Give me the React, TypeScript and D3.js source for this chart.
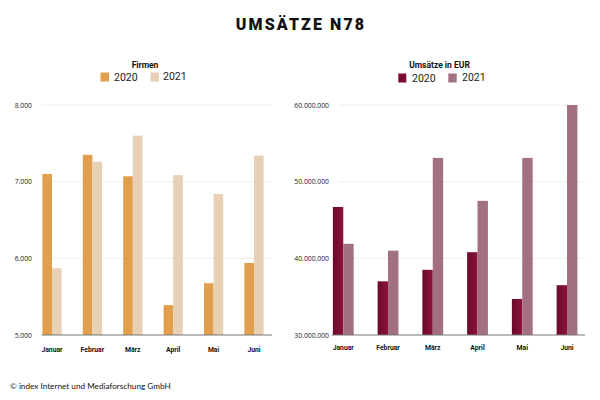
import React from "react";
import * as d3 from "d3";

const months = ["Januar", "Februar", "März", "April", "Mai", "Juni"];
const years = ["2020", "2021"];
const firmen2020 = [7100, 7350, 7070, 5390, 5675, 5940];
const firmen2021 = [5870, 7260, 7600, 7085, 6840, 7340];
const umsatz2020 = [46700000, 37000000, 38500000, 40800000, 34700000, 36500000];
const umsatz2021 = [41900000, 41000000, 53100000, 47500000, 53100000, 60000000];
const firmenTicks = [5000, 6000, 7000, 8000];
const umsatzTicks = [30000000, 40000000, 50000000, 60000000];

const de = d3.formatLocale({ decimal: ",", thousands: ".", grouping: [3], currency: ["", " €"] });
const fmt = de.format(",.0f");

const FONT = "Roboto, 'Open Sans', sans-serif";

export default function App() {
  const W = 600, H = 400;
  // left chart
  const yL = d3.scaleLinear().domain([5000, 8000]).range([335, 105]);
  const xL = d3.scaleBand<string>().domain(months).range([31.8, 274.2]).padding(0);
  const iL = d3.scaleBand<string>().domain(years).range([-9.6, 9.6]).padding(0);
  const colL: Record<string, string> = { "2020": "#E19F4D", "2021": "#E7D0B3" };
  // right chart
  const yR = d3.scaleLinear().domain([30000000, 60000000]).range([335, 105]);
  const xR = d3.scaleBand<string>().domain(months).range([320.9, 589.4]).padding(0);
  const iR = d3.scaleBand<string>().domain(years).range([-10.4, 10.4]).padding(0);
  const colR: Record<string, string> = { "2020": "url(#maroon)", "2021": "#A27080" };

  const leftData = [firmen2020, firmen2021];
  const rightData = [umsatz2020, umsatz2021];

  return (
    <svg width={W} height={H} style={{ position: "absolute", left: 0, top: 0, background: "#fff" }}>
      <defs>
        <linearGradient id="maroon" x1="0" x2="1" y1="0" y2="0">
          <stop offset="0" stopColor="#6A0A2A" />
          <stop offset="1" stopColor="#8E123A" />
        </linearGradient>
      </defs>
      <rect width={W} height={H} fill="#fff" />
      <text x={301} y={30} textAnchor="middle" fontFamily={FONT} fontWeight={900} fontSize={16} letterSpacing={2.1} fill="#111">
        UMSÄTZE N78
      </text>

      {/* Left legend */}
      <text x={145} y={67.5} textAnchor="middle" fontFamily={FONT} fontWeight={700} fontSize={8.5} fill="#111">Firmen</text>
      <rect x={100.5} y={72.5} width={8.5} height={9} fill={colL["2020"]} />
      <text x={114} y={81} fontFamily={FONT} fontSize={10.5} fill="#222">2020</text>
      <rect x={150.5} y={72.5} width={8.5} height={9} fill={colL["2021"]} />
      <text x={163} y={80} fontFamily={FONT} fontSize={10.5} fill="#222">2021</text>

      {/* Right legend */}
      <text x={439.5} y={67.5} textAnchor="middle" fontFamily={FONT} fontWeight={700} fontSize={8.5} fill="#111">Umsätze in EUR</text>
      <rect x={398.3} y={73.5} width={8} height={9} fill="#7D0C32" />
      <text x={412} y={82} fontFamily={FONT} fontSize={10.5} fill="#222">2020</text>
      <rect x={448.3} y={73.5} width={8.4} height={9} fill={colR["2021"]} />
      <text x={462} y={80.5} fontFamily={FONT} fontSize={10.5} fill="#222">2021</text>

      {/* Left chart grid */}
      {firmenTicks.map((t) => (
        <g key={"lt" + t}>
          {t !== 5000 && <line x1={41.7} x2={272} y1={yL(t)} y2={yL(t)} stroke="#EEEEEE" strokeWidth={1} />}
          <text x={32} y={yL(t) + 2.5} textAnchor="end" fontFamily="'Open Sans', sans-serif" fontSize={6.8} fill="#222">{fmt(t)}</text>
        </g>
      ))}
      {months.map((m, i) =>
        years.map((y, j) => {
          const v = leftData[j][i];
          const x = (xL(m) as number) + xL.bandwidth() / 2 + (iL(y) as number);
          return <rect key={m + y} x={x} y={yL(v)} width={iL.bandwidth()} height={yL(5000) - yL(v)} fill={colL[y]} />;
        })
      )}
      <line x1={41.7} x2={272} y1={yL(5000)} y2={yL(5000)} stroke="#777" strokeWidth={1} />
      {months.map((m) => (
        <text key={"lm" + m} x={(xL(m) as number) + xL.bandwidth() / 2} y={352} textAnchor="middle" fontFamily={FONT} fontWeight={700} fontSize={6.8} fill="#111">{m}</text>
      ))}

      {/* Right chart grid */}
      {umsatzTicks.map((t) => (
        <g key={"rt" + t}>
          {t !== 30000000 && <line x1={338.3} x2={585} y1={yR(t)} y2={yR(t)} stroke="#EEEEEE" strokeWidth={1} />}
          <text x={329} y={yR(t) + 2.5} textAnchor="end" fontFamily="'Open Sans', sans-serif" fontSize={6.8} fill="#222">{fmt(t)}</text>
        </g>
      ))}
      {months.map((m, i) =>
        years.map((y, j) => {
          const v = rightData[j][i];
          const x = (xR(m) as number) + xR.bandwidth() / 2 + (iR(y) as number);
          return <rect key={"r" + m + y} x={x} y={yR(v)} width={iR.bandwidth()} height={yR(30000000) - yR(v)} fill={colR[y]} />;
        })
      )}
      <line x1={331.7} x2={585} y1={yR(30000000)} y2={yR(30000000)} stroke="#777" strokeWidth={1} />
      {months.map((m) => (
        <text key={"rm" + m} x={(xR(m) as number) + xR.bandwidth() / 2} y={350} textAnchor="middle" fontFamily={FONT} fontWeight={700} fontSize={6.8} fill="#111">{m}</text>
      ))}

      <text x={10} y={388.5} fontFamily="Lato, sans-serif" fontSize={8.2} fill="#111">© index Internet und Mediaforschung GmbH</text>
    </svg>
  );
}
